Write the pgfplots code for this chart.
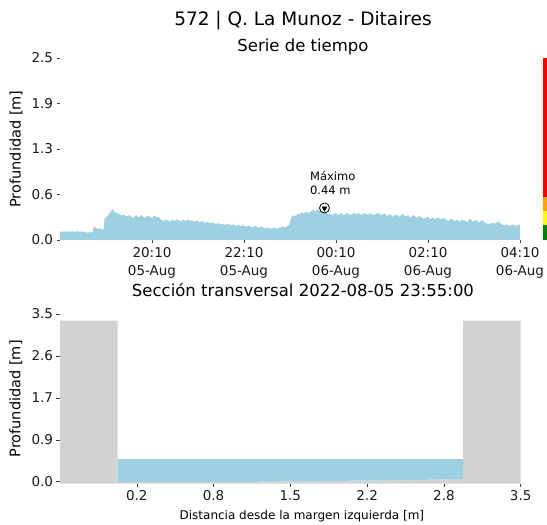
\documentclass[border=0pt]{standalone}
\usepackage{pgfplots}
\pgfplotsset{compat=1.18}
\usepackage{fontspec}
\setmainfont{DejaVu Sans}
\definecolor{wblue}{RGB}{157,208,224}
\definecolor{bankgray}{RGB}{211,211,211}
\definecolor{lvred}{RGB}{255,0,0}
\definecolor{lvorange}{RGB}{255,165,0}
\definecolor{lvyellow}{RGB}{255,255,0}
\definecolor{lvgreen}{RGB}{0,128,0}
\pgfplotsset{
  common/.style={
    scale only axis,
    axis line style={draw=none},
    tick align=outside,
    tick pos=left,
    major tick length=3.5bp,
    tick style={black!75, line width=0.5pt},
    /pgf/number format/assume math mode=true,
    ticklabel style={font=\fontsize{13.5bp}{18.5bp}\selectfont, text=black!90},
    every axis y label/.style={at={(axis description cs:-0.0957,0.5)}, rotate=90, anchor=center, font=\fontsize{14.5bp}{17bp}\selectfont},
    clip=false,
  }
}
\begin{document}
\begin{tikzpicture}
\path[use as bounding box] (0bp,0bp) rectangle (547bp,525bp);
\node[anchor=base, font=\fontsize{18.5bp}{22bp}\selectfont] at (303bp,499bp) {572 | Q. La Munoz - Ditaires};
\node[anchor=base, font=\fontsize{16.5bp}{20bp}\selectfont] at (303bp,473bp) {Serie de tiempo};
\node[anchor=base, font=\fontsize{16.5bp}{20bp}\selectfont] at (303bp,228bp) {Sección transversal 2022-08-05 23:55:00};
% time series
\begin{axis}[common,
  at={(60bp,285bp)}, anchor=south west, width=460bp, height=182bp,
  xmin=0, xmax=600, ymin=0, ymax=2.5,
  xtick={120,240,360,480,600},
  xticklabels={20:10\\05-Aug,22:10\\05-Aug,00:10\\06-Aug,02:10\\06-Aug,04:10\\06-Aug},
  xticklabel style={align=center},
  ytick={0,0.625,1.25,1.875,2.5},
  yticklabels={0.0,0.6,1.3,1.9,2.5},
  ylabel={Profundidad [m]},
]
\addplot[fill=wblue, draw=none] table {
0 0.11
3 0.12
5 0.11
8 0.12
11 0.11
14 0.12
17 0.12
20 0.11
23 0.12
26 0.11
29 0.12
32 0.11
35 0.10
38 0.11
40 0.10
43 0.11
44 0.19
46 0.17
48 0.16
50 0.15
52 0.16
54 0.15
56 0.14
57 0.15
58 0.29
60 0.31
62 0.33
64 0.36
66 0.38
68 0.43
70 0.40
72 0.37
74 0.38
76 0.35
78 0.36
80 0.33
82 0.35
84 0.34
86 0.33
88 0.32
90 0.34
92 0.33
94 0.31
96 0.31
98 0.33
100 0.34
102 0.31
104 0.32
106 0.34
108 0.33
110 0.30
112 0.31
114 0.33
116 0.33
118 0.31
120 0.30
122 0.32
124 0.34
126 0.31
128 0.32
130 0.30
132 0.28
134 0.27
136 0.26
138 0.28
140 0.27
142 0.26
144 0.25
146 0.28
148 0.27
150 0.26
152 0.29
154 0.27
156 0.27
158 0.25
160 0.28
162 0.27
164 0.26
166 0.28
168 0.28
170 0.26
172 0.27
174 0.26
176 0.25
178 0.27
180 0.26
182 0.24
184 0.25
186 0.26
188 0.24
190 0.23
192 0.25
194 0.24
196 0.23
198 0.24
200 0.24
202 0.22
204 0.22
206 0.23
208 0.23
210 0.21
212 0.22
214 0.21
216 0.21
218 0.22
220 0.22
222 0.20
224 0.21
226 0.21
228 0.20
230 0.19
232 0.21
234 0.20
236 0.19
238 0.20
240 0.20
242 0.18
244 0.19
246 0.20
248 0.19
250 0.17
252 0.18
254 0.19
256 0.19
258 0.17
260 0.17
262 0.18
264 0.18
266 0.16
268 0.16
270 0.17
272 0.17
274 0.15
276 0.16
278 0.17
280 0.17
282 0.16
284 0.16
286 0.17
288 0.17
290 0.18
292 0.18
294 0.17
296 0.19
299 0.21
302 0.32
304 0.33
306 0.34
308 0.33
310 0.36
312 0.35
314 0.37
316 0.38
318 0.36
320 0.38
322 0.39
324 0.37
326 0.38
328 0.40
330 0.42
332 0.39
334 0.40
336 0.42
338 0.41
340 0.40
342 0.42
345 0.44
347 0.38
348 0.37
350 0.35
352 0.36
354 0.34
356 0.35
358 0.36
360 0.37
362 0.34
364 0.35
366 0.37
368 0.36
370 0.34
372 0.35
374 0.37
376 0.36
378 0.34
380 0.35
382 0.36
384 0.37
386 0.35
388 0.36
390 0.37
392 0.35
394 0.34
396 0.37
398 0.36
400 0.36
402 0.34
404 0.37
406 0.36
408 0.35
410 0.34
412 0.36
414 0.37
416 0.37
418 0.34
420 0.35
422 0.36
424 0.36
426 0.33
428 0.34
430 0.35
432 0.35
434 0.32
436 0.33
438 0.35
440 0.34
442 0.32
444 0.33
446 0.36
448 0.35
450 0.32
452 0.33
454 0.34
456 0.32
458 0.31
460 0.34
462 0.33
464 0.32
466 0.30
468 0.33
470 0.32
472 0.31
474 0.29
476 0.30
478 0.31
480 0.32
482 0.29
484 0.29
486 0.31
488 0.30
490 0.28
492 0.31
494 0.30
496 0.29
498 0.28
500 0.30
502 0.29
504 0.28
506 0.26
508 0.27
510 0.29
512 0.29
514 0.26
516 0.27
518 0.28
520 0.26
522 0.25
524 0.28
526 0.27
528 0.27
530 0.25
532 0.25
534 0.29
536 0.28
538 0.25
540 0.26
542 0.27
544 0.27
546 0.24
548 0.25
550 0.27
552 0.26
554 0.24
556 0.23
558 0.22
560 0.22
562 0.23
564 0.24
566 0.22
568 0.23
570 0.24
572 0.26
574 0.23
576 0.21
578 0.21
580 0.20
582 0.21
584 0.21
586 0.19
588 0.20
590 0.21
592 0.21
594 0.19
596 0.20
598 0.21
600 0.21
} \closedcycle;
% maximum marker
\addplot[only marks, mark=*, mark size=5bp, mark options={fill=white, draw=black, line width=0.8pt}] coordinates {(345,0.44)};
\addplot[only marks, mark=triangle*, mark size=2.8bp, mark options={fill=black, draw=black, rotate=180}] coordinates {(345,0.435)};
\node[anchor=west, align=left, font=\fontsize{11.5bp}{14bp}\selectfont, inner sep=0pt] at (axis cs:326,0.78) {Máximo\\0.44 m};
% level colour bar
\addplot[fill=lvgreen, draw=none] coordinates {(630,0) (635.2,0) (635.2,0.20) (630,0.20)} -- cycle;
\addplot[fill=lvyellow, draw=none] coordinates {(630,0.20) (635.2,0.20) (635.2,0.40) (630,0.40)} -- cycle;
\addplot[fill=lvorange, draw=none] coordinates {(630,0.40) (635.2,0.40) (635.2,0.595) (630,0.595)} -- cycle;
\addplot[fill=lvred, draw=none] coordinates {(630,0.595) (635.2,0.595) (635.2,2.5) (630,2.5)} -- cycle;
\end{axis}
% cross section
\begin{axis}[common,
  at={(60bp,41.4bp)}, anchor=south west, width=460.7bp, height=169.6bp,
  xmin=-0.5, xmax=3.5, ymin=-0.04, ymax=3.5,
  xtick={0.16667,0.83333,1.5,2.16667,2.83333,3.5},
  xticklabels={0.2,0.8,1.5,2.2,2.8,3.5},
  ytick={0,0.875,1.75,2.625,3.5},
  yticklabels={0.0,0.9,1.7,2.6,3.5},
  ylabel={Profundidad [m]},
  xlabel={Distancia desde la margen izquierda [m]},
  xlabel style={font=\fontsize{12bp}{14bp}\selectfont, at={(axis description cs:0.525,0)}, anchor=base, yshift=-36bp},
]
\addplot[fill=bankgray, draw=none] coordinates {
(-0.5,-0.04) (-0.5,3.36) (0,3.36) (0,-0.01) (0.8,-0.01) (1.3,0.0) (1.8,0.015) (2.5,0.03) (3.0,0.056) (3.0,3.36) (3.5,3.36) (3.5,-0.04)
} -- cycle;
\addplot[fill=wblue, draw=none] coordinates {
(0,-0.01) (0.8,-0.01) (1.3,0.0) (1.8,0.015) (2.5,0.03) (3.0,0.056) (3.0,0.47) (0,0.47)
} -- cycle;
\end{axis}
\end{tikzpicture}
\end{document}
